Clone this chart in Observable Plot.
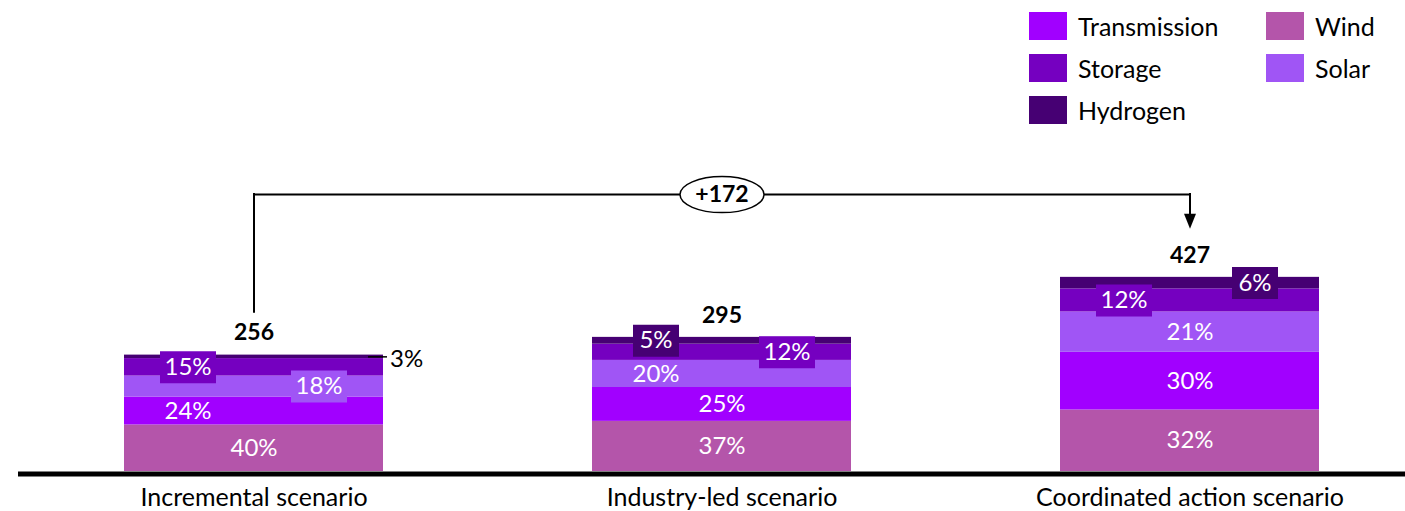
<!DOCTYPE html>
<html><head><meta charset="utf-8">
<script src="https://cdn.jsdelivr.net/npm/d3@7"></script>
<script src="https://cdn.jsdelivr.net/npm/@observablehq/plot@0.6"></script>
<style>
body{margin:0;background:#fff;font-family:Lato,"Open Sans",sans-serif;}
#wrap{position:relative;width:1405px;height:511px;overflow:hidden;}
#legend{position:relative;height:130px;}
.item{position:absolute;display:flex;align-items:center;font-size:25px;color:#000;white-space:nowrap;}
.sw{width:38px;height:28px;margin-right:11px;}
</style></head><body>
<div id="wrap"><div id="legend"></div><div id="chart"></div></div>
<script>
// ---- data ----
const scenarios = ["Incremental scenario", "Industry-led scenario", "Coordinated action scenario"];
const totals = [256, 295, 427];
const technologies = ["Wind", "Transmission", "Solar", "Storage", "Hydrogen"]; // stack order, bottom to top
const windShare = [40, 37, 32];
const transmissionShare = [24, 25, 30];
const solarShare = [18, 20, 21];
const storageShare = [15, 12, 12];
const hydrogenShare = [3, 5, 6];
const deltaLabel = "+172";
const legendOrder = ["Transmission", "Storage", "Hydrogen", "Wind", "Solar"];
const techColors = ["#B455AA", "#A100FF", "#A055F5", "#7500C0", "#460073"];

// ---- derived table ----
const shares = {Wind: windShare, Transmission: transmissionShare, Solar: solarShare, Storage: storageShare, Hydrogen: hydrogenShare};
const rows = [];
scenarios.forEach((s, i) => {
  const sum = d3.sum(technologies, t => shares[t][i]);
  let cum = 0;
  technologies.forEach(t => {
    const v = totals[i] * shares[t][i] / sum;
    rows.push({scenario: s, tech: t, value: v, y1: cum, y2: cum + v, mid: cum + v / 2, label: shares[t][i] + "%"});
    cum += v;
  });
});
const totalRows = scenarios.map((s, i) => ({scenario: s, total: totals[i]}));

// ---- layout of labels ----
const labelSide = {
  "Incremental scenario": {Wind: "C", Transmission: "L", Solar: "R", Storage: "L", Hydrogen: "out"},
  "Industry-led scenario": {Wind: "C", Transmission: "C", Solar: "L", Storage: "R", Hydrogen: "L"},
  "Coordinated action scenario": {Wind: "C", Transmission: "C", Solar: "C", Storage: "L", Hydrogen: "R"}
};
const sideDx = {L: -66, C: 0, R: 65};
rows.forEach(r => { r.side = labelSide[r.scenario][r.tech]; r.boxed = r.side !== "out" && r.value < 55; });

const color = d3.scaleOrdinal(technologies, techColors);

// ---- legend ----
const legend = document.getElementById("legend");
legendOrder.forEach((t, i) => {
  const col = Math.floor(i / 3), row = i % 3;
  const it = document.createElement("div");
  it.className = "item";
  it.style.left = (1029 + col * 237) + "px";
  it.style.top = (11 + row * 42) + "px";
  it.innerHTML = `<div class="sw" style="background:${color(t)}"></div><span>${t}</span>`;
  legend.appendChild(it);
});

// ---- custom symbols ----
const boxSym = w => ({draw(ctx) { ctx.rect(-w / 2, -16, w, 32); }});
const ellipseSym = {draw(ctx) {
  const rx = 42, ry = 18, k = 0.5523;
  ctx.moveTo(rx, 0);
  ctx.bezierCurveTo(rx, ry * k, rx * k, ry, 0, ry);
  ctx.bezierCurveTo(-rx * k, ry, -rx, ry * k, -rx, 0);
  ctx.bezierCurveTo(-rx, -ry * k, -rx * k, -ry, 0, -ry);
  ctx.bezierCurveTo(rx * k, -ry, rx, -ry * k, rx, 0);
  ctx.closePath();
}};
const arrowSym = {draw(ctx) { ctx.moveTo(-6, -15); ctx.lineTo(6, -15); ctx.lineTo(0, 0); ctx.closePath(); }};

const bracketY = d3.max(totals) + 182;
const bracketStart = totals[0] + 94;
const arrowTip = totals[2] + 107;

const labelMarks = [];
["L", "C", "R"].forEach(side => {
  const sub = rows.filter(r => r.side === side);
  labelMarks.push(
    Plot.dot(sub.filter(r => r.boxed && r.label.length >= 3), {x: "scenario", y: "mid", dx: sideDx[side], symbol: boxSym(56), fill: "tech", stroke: null}),
    Plot.dot(sub.filter(r => r.boxed && r.label.length < 3), {x: "scenario", y: "mid", dx: sideDx[side], symbol: boxSym(46), fill: "tech", stroke: null}),
    Plot.text(sub, {x: "scenario", y: "mid", text: "label", dx: sideDx[side], fill: "white", fontSize: 24})
  );
});
const outRows = rows.filter(r => r.side === "out");

const chart = Plot.plot({
  width: 1405, height: 381,
  marginLeft: 18, marginRight: 0, marginTop: 0, marginBottom: 40,
  x: {domain: scenarios, range: [123, 1321], paddingInner: 0.4456, paddingOuter: 0},
  y: {domain: [0, 750], axis: null},
  color: {domain: technologies, range: techColors},
  style: {fontFamily: "Lato, 'Open Sans', sans-serif", fontSize: "24px", color: "#000", background: "transparent", overflow: "visible"},
  marks: [
    Plot.barY(rows, {x: "scenario", y1: "y1", y2: "y2", fill: "tech"}),
    Plot.ruleY([0], {stroke: "#000", strokeWidth: 5, dy: 2.5}),
    ...labelMarks,
    Plot.tickY(outRows, {x: "scenario", y: "mid", insetLeft: 244, insetRight: -4, stroke: "#000", strokeWidth: 1.5}),
    Plot.text(outRows, {x: "scenario", y: "mid", text: "label", dx: 136, dy: 2, textAnchor: "start", fill: "#000", fontSize: 24}),
    Plot.text(totalRows, {x: "scenario", y: "total", text: d => String(d.total), dy: -22, fontWeight: "bold", fontSize: 23, fill: "#000"}),
    Plot.ruleX([scenarios[0]], {x: d => d, y1: bracketStart, y2: bracketY, stroke: "#000", strokeWidth: 2, strokeLinecap: "square"}),
    Plot.line([scenarios[0], scenarios[2]], {x: d => d, y: () => bracketY, stroke: "#000", strokeWidth: 2, strokeLinecap: "square"}),
    Plot.ruleX([scenarios[2]], {x: d => d, y1: arrowTip + 10, y2: bracketY, stroke: "#000", strokeWidth: 2, strokeLinecap: "square"}),
    Plot.dot([scenarios[2]], {x: d => d, y: () => arrowTip, symbol: arrowSym, fill: "#000", stroke: null}),
    Plot.dot([scenarios[1]], {x: d => d, y: () => bracketY, symbol: ellipseSym, fill: "white", stroke: "#000", strokeWidth: 1.5}),
    Plot.text([deltaLabel], {x: () => scenarios[1], y: () => bracketY, text: d => d, fontWeight: "bold", fontSize: 23, fill: "#000"}),
    Plot.axisX({tickSize: 0, tickPadding: 17, fontSize: 25, label: null})
  ]
});
document.getElementById("chart").appendChild(chart);
</script>
</body></html>
